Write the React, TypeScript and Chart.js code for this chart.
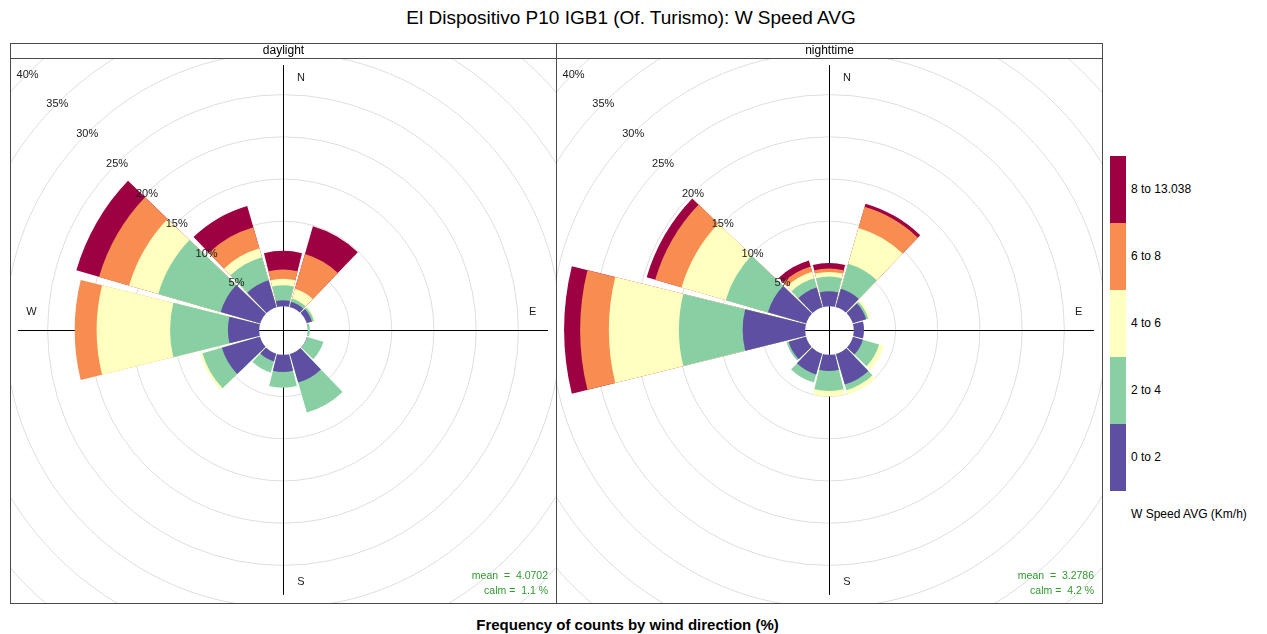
import React, { useEffect, useRef } from "react";
import { Chart, registerables } from "chart.js";

Chart.register(...registerables);

// ---------- data ----------
const directions = [0, 30, 60, 90, 120, 150, 180, 210, 240, 270, 300, 330];
const speedBins = ["0 to 2", "2 to 4", "4 to 6", "6 to 8", "8 to 13.038"];
const binColors = ["#5E4FA2", "#88D0A4", "#FFFFBF", "#F88D52", "#9E0142"];
const tickValues = [5, 10, 15, 20, 25, 30, 35, 40];

// daylight: frequency (%) of counts per direction, one array per speed bin
const day0to2 = [0.65, 0.6, 0.7, 0.05, 0.1, 3.6, 2.1, 1.0, 4.65, 3.65, 4.8, 3.25];
const day2to4 = [1.78, 0.4, 0.25, 0.25, 2.0, 3.7, 1.85, 1.35, 2.4, 6.85, 7.7, 2.85];
const day4to6 = [0.77, 1.2, 0.15, 0, 0, 0, 0, 0, 0.3, 8.7, 3.6, 1.1];
const day6to8 = [1.1, 4.3, 0, 0, 0, 0, 0, 0, 0, 2.6, 3.7, 2.6];
const day8plus = [2.2, 3.4, 0, 0, 0, 0, 0, 0, 0, 0, 2.8, 2.6];

// nighttime
const night0to2 = [1.7, 2.2, 1.7, 1.27, 1.3, 3.85, 1.97, 2.6, 2.1, 7.35, 4.65, 2.35];
const night2to4 = [1.75, 3.1, 0.25, 0, 2.0, 0.7, 2.38, 1.0, 0.25, 7.55, 5.2, 1.15];
const night4to6 = [0.55, 4.4, 0.3, 0, 0.6, 0.5, 0.65, 0, 0, 8.3, 5.45, 0.8];
const night6to8 = [0.4, 2.6, 0, 0, 0, 0, 0, 0, 0, 3.4, 3.25, 0.65];
const night8plus = [0.65, 0.4, 0, 0, 0, 0, 0, 0, 0, 1.9, 1.05, 0.75];

const dayStats = { mean: "4.0702", calm: "1.1" };
const nightStats = { mean: "3.2786", calm: "4.2" };

// ---------- geometry constants ----------
const SCALE_MIN = -2.88; // offset for the calm hole
const SCALE_MAX = 40;
const CANVAS = 724;
const WEDGE = 27.8;
const GAP = 30 - WEDGE;
const FONT = '"Liberation Sans", Arial, Helvetica, sans-serif';

function cumulative(bins: number[][]) {
  const out: number[][] = [];
  let run = directions.map(() => 0);
  bins.forEach((b) => {
    run = run.map((v, i) => v + b[i]);
    out.push(run.slice());
  });
  return out;
}

const dayCum = cumulative([day0to2, day2to4, day4to6, day6to8, day8plus]);
const nightCum = cumulative([night0to2, night2to4, night4to6, night6to8, night8plus]);
const axisMax = Math.max(...dayCum[4], ...nightCum[4]);

function drawAxes(ctx: CanvasRenderingContext2D, cx: number, cy: number, L: number) {
  ctx.strokeStyle = "#000";
  ctx.lineWidth = 1;
  ctx.beginPath();
  ctx.moveTo(cx + 0.5, cy - L);
  ctx.lineTo(cx + 0.5, cy + L);
  ctx.moveTo(cx - L, cy + 0.5);
  ctx.lineTo(cx + L, cy + 0.5);
  ctx.stroke();
}

function makePlugin() {
  return {
    id: "roseDecor",
    beforeDatasetsDraw(chart: any) {
      const s = chart.scales.r;
      const ctx = chart.ctx;
      const cx = s.xCenter;
      const cy = s.yCenter;
      const L = s.getDistanceFromCenterForValue(axisMax);
      ctx.save();
      drawAxes(ctx, cx, cy, L);
      // compass labels (under the wedges)
      ctx.font = `11px ${FONT}`;
      ctx.fillStyle = "#1a1a1a";
      ctx.textAlign = "center";
      ctx.textBaseline = "middle";
      const rl = 0.95 * L;
      ctx.fillText("N", cx + 18, cy - rl);
      ctx.fillText("S", cx + 18, cy + rl);
      ctx.fillText("E", cx + rl - 2, cy - 18);
      ctx.fillText("W", cx - rl, cy - 18);
      ctx.restore();
    },
    afterDatasetsDraw(chart: any) {
      const s = chart.scales.r;
      const ctx = chart.ctx;
      const cx = s.xCenter;
      const cy = s.yCenter;
      const r0 = s.getDistanceFromCenterForValue(0);
      const L = s.getDistanceFromCenterForValue(axisMax);
      // calm hole
      ctx.save();
      ctx.beginPath();
      ctx.arc(cx + 0.5, cy + 0.5, r0, 0, Math.PI * 2);
      ctx.fillStyle = "#fff";
      ctx.fill();
      ctx.clip();
      drawAxes(ctx, cx, cy, L);
      ctx.restore();

      // percentage labels along the NW diagonal
      ctx.save();
      ctx.font = `11px ${FONT}`;
      ctx.fillStyle = "#1a1a1a";
      ctx.textAlign = "center";
      ctx.textBaseline = "middle";
      tickValues.forEach((v) => {
        const r = s.getDistanceFromCenterForValue(v);
        const d = r / Math.SQRT2;
        ctx.fillText(`${v}%`, cx - d + 0.5, cy - d + 0.5);
      });
      ctx.restore();
    },
  };
}

function RosePanel({ cum }: { cum: number[][] }) {
  const ref = useRef<HTMLCanvasElement>(null);
  useEffect(() => {
    if (!ref.current) return;
    const labels = directions.flatMap((d) => [String(d), ""]);
    const angles = directions.flatMap(() => [WEDGE, GAP]);
    const datasets = speedBins.map((bin, k) => ({
      label: bin,
      data: directions.flatMap((_, i) => {
        const inc = cum[k][i] - (k > 0 ? cum[k - 1][i] : 0);
        return [inc > 0 ? cum[k][i] : SCALE_MIN, SCALE_MIN];
      }),
      backgroundColor: directions.flatMap(() => [binColors[k], "rgba(0,0,0,0)"]),
      borderWidth: 0,
      angle: angles,
    }));
    const chart = new Chart(ref.current, {
      type: "polarArea",
      data: { labels, datasets },
      options: {
        responsive: false,
        animation: false,
        devicePixelRatio: 1,
        layout: { padding: 0 },
        plugins: { legend: { display: false }, tooltip: { enabled: false } },
        scales: {
          r: {
            type: "radialLinear",
            min: SCALE_MIN,
            max: SCALE_MAX,
            startAngle: -WEDGE / 2,
            beginAtZero: false,
            ticks: { display: false, stepSize: 5 },
            grid: {
              circular: true,
              lineWidth: 1,
              color: (c: any) =>
                c.tick && c.tick.value > 0 ? "rgb(222,222,222)" : "rgba(0,0,0,0)",
            },
            angleLines: { display: false },
            pointLabels: { display: false },
          },
        },
      } as any,
      plugins: [makePlugin()],
    });
    return () => chart.destroy();
  }, [cum]);
  return (
    <canvas
      ref={ref}
      width={CANVAS}
      height={CANVAS}
      style={{ position: "absolute", left: -90, top: -91, width: CANVAS, height: CANVAS }}
    />
  );
}

function Stats({ right, mean, calm }: { right: number; mean: string; calm: string }) {
  const st: React.CSSProperties = {
    position: "absolute",
    right,
    fontSize: 10.5,
    color: "#2f9a2f",
    whiteSpace: "pre",
    lineHeight: "15px",
    textAlign: "right",
  };
  return (
    <>
      <div style={{ ...st, top: 568 }}>{`mean  =  ${mean}`}</div>
      <div style={{ ...st, top: 583 }}>{`calm =  ${calm} %`}</div>
    </>
  );
}

export default function App() {
  const line = "#4a4a4a";
  const legendTop = 156;
  const block = 67;
  return (
    <div
      style={{
        position: "absolute",
        left: 0,
        top: 0,
        width: 1267,
        height: 634,
        background: "#fff",
        fontFamily: FONT,
        color: "#000",
        overflow: "hidden",
      }}
    >
      {/* title */}
      <div
        style={{
          position: "absolute",
          left: 0,
          width: 1262,
          top: 7,
          textAlign: "center",
          fontSize: 19,
          lineHeight: "22px",
        }}
      >
        El Dispositivo P10 IGB1 (Of. Turismo): W Speed AVG
      </div>

      {/* panels */}
      <div style={{ position: "absolute", left: 11, top: 59, width: 545, height: 544, overflow: "hidden" }}>
        <RosePanel cum={dayCum} />
      </div>
      <div style={{ position: "absolute", left: 557, top: 59, width: 545, height: 544, overflow: "hidden" }}>
        <RosePanel cum={nightCum} />
      </div>

      <Stats right={1267 - 548} mean={dayStats.mean} calm={dayStats.calm} />
      <Stats right={1267 - 1094} mean={nightStats.mean} calm={nightStats.calm} />

      {/* frame */}
      <div
        style={{
          position: "absolute",
          left: 10,
          top: 43,
          width: 1093,
          height: 561,
          border: `1px solid ${line}`,
          boxSizing: "border-box",
        }}
      />
      <div style={{ position: "absolute", left: 10, top: 58, width: 1093, height: 1, background: line }} />
      <div style={{ position: "absolute", left: 556, top: 43, width: 1, height: 561, background: line }} />
      <div style={{ position: "absolute", left: 11, width: 545, top: 43, lineHeight: "15px", fontSize: 12, textAlign: "center" }}>
        daylight
      </div>
      <div style={{ position: "absolute", left: 557, width: 545, top: 43, lineHeight: "15px", fontSize: 12, textAlign: "center" }}>
        nighttime
      </div>

      {/* legend */}
      {speedBins.map((b, k) => {
        const idx = speedBins.length - 1 - k;
        const top = legendTop + k * block;
        return (
          <React.Fragment key={b}>
            <div
              style={{
                position: "absolute",
                left: 1110,
                top,
                width: 16,
                height: block,
                background: binColors[idx],
              }}
            />
            <div
              style={{
                position: "absolute",
                left: 1131,
                top: top + block / 2 - 9,
                lineHeight: "16px",
                fontSize: 12,
              }}
            >
              {speedBins[idx]}
            </div>
          </React.Fragment>
        );
      })}
      <div style={{ position: "absolute", left: 1131, top: 506, lineHeight: "16px", fontSize: 12 }}>
        W Speed AVG (Km/h)
      </div>

      {/* x label */}
      <div
        style={{
          position: "absolute",
          left: 0,
          width: 1255,
          top: 615,
          textAlign: "center",
          fontSize: 15,
          fontWeight: "bold",
          lineHeight: "20px",
        }}
      >
        Frequency of counts by wind direction (%)
      </div>
    </div>
  );
}
